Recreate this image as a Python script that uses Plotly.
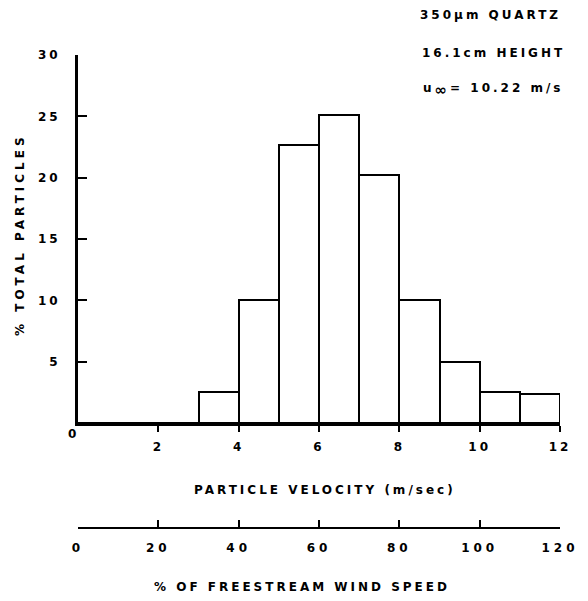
import plotly.graph_objects as go

# Data
bin_left = [0, 1, 2, 3, 4, 5, 6, 7, 8, 9, 10, 11]
pct_particles = [0, 0, 0, 2.5, 10.0, 22.7, 25.1, 20.2, 10.0, 5.0, 2.5, 2.4]
vel_ticks = [2, 4, 6, 8, 10, 12]
y_ticks = [5, 10, 15, 20, 25, 30]
pct_ticks = [0, 20, 40, 60, 80, 100, 120]

W, H = 588, 601
L, R, T, B = 78, 28, 55, 60
PW, PH = W - L - R, H - T - B

def fx(px):
    return (px - L) / PW

def fy(py):
    return (H - B - py) / PH

FONT = "DejaVu Sans"

def sp(s, ls=2):
    return f'<span style="letter-spacing:{ls}px"><b>{s}</b></span>'

centers = [b + 0.5 for b in bin_left]

fig = go.Figure()
fig.add_trace(go.Bar(
    x=centers, y=pct_particles, width=1,
    marker=dict(color="white", line=dict(color="black", width=2)),
    showlegend=False, hoverinfo="skip",
))
# invisible trace so the secondary axis is drawn
fig.add_trace(go.Scatter(x=[0, 120], y=[0, 0], xaxis="x2", yaxis="y",
                         mode="markers", marker=dict(opacity=0), showlegend=False,
                         hoverinfo="skip"))

y0frac = fy(423)
fig.update_layout(
    width=W, height=H,
    margin=dict(l=L, r=R, t=T, b=B, pad=0, autoexpand=False),
    paper_bgcolor="white", plot_bgcolor="white",
    font=dict(family=FONT, color="black", size=12),
    bargap=0,
    xaxis=dict(
        range=[0, 12], domain=[0, 1], anchor="y", automargin=False,
        showline=True, linecolor="black", linewidth=3,
        showgrid=False, zeroline=False,
        ticks="outside", ticklen=6, tickwidth=2, tickcolor="black",
        tickvals=vel_ticks, ticktext=[sp(str(v), 3) for v in vel_ticks],
        ticklabelstandoff=5,
        tickfont=dict(family=FONT, size=12, color="black"),
    ),
    yaxis=dict(
        range=[0, 30], domain=[y0frac, 1], automargin=False,
        showline=True, linecolor="black", linewidth=3,
        showgrid=False, zeroline=False,
        ticks="inside", ticklen=9, tickwidth=2, tickcolor="black",
        tickvals=y_ticks, ticktext=[sp(str(v), 3) for v in y_ticks],
        ticklabelstandoff=12,
        tickfont=dict(family=FONT, size=12, color="black"),
    ),
    xaxis2=dict(
        range=[0, 120], domain=[0, fx(552)], automargin=False,
        anchor="free", position=fy(528), overlaying="x",
        showline=True, linecolor="black", linewidth=2,
        showgrid=False, zeroline=False,
        ticks="inside", ticklen=7, tickwidth=2, tickcolor="black",
        tickvals=pct_ticks, ticktext=[sp(str(v), 4) for v in pct_ticks],
        ticklabelstandoff=9,
        tickfont=dict(family=FONT, size=12, color="black"),
    ),
)

ann = [
    dict(text=sp("0"), x=fx(73), y=fy(434)),
    dict(text=sp("PARTICLE VELOCITY (m/sec)", 3), x=fx(325), y=fy(490)),
    dict(text=sp("% OF FREESTREAM WIND SPEED", 3), x=fx(302), y=fy(587)),
    dict(text=sp("% TOTAL PARTICLES", 4), x=fx(20), y=fy(235), textangle=-90),
    dict(text=sp("350µm QUARTZ", 3), x=fx(490), y=fy(15)),
    dict(text=sp("16.1cm HEIGHT", 3), x=fx(493), y=fy(53)),
    dict(text=sp('u<sub><span style="font-size:15px">∞</span></sub>= 10.22 m/s', 3),
         x=fx(493), y=fy(90)),
]
for a in ann:
    fig.add_annotation(xref="paper", yref="paper", showarrow=False,
                       xanchor="center", yanchor="middle",
                       font=dict(family=FONT, size=12, color="black"), **a)

fig.write_html("out.html",
               config={"displayModeBar": False},
               post_script="document.body.style.margin='0';document.body.style.overflow='hidden';")
